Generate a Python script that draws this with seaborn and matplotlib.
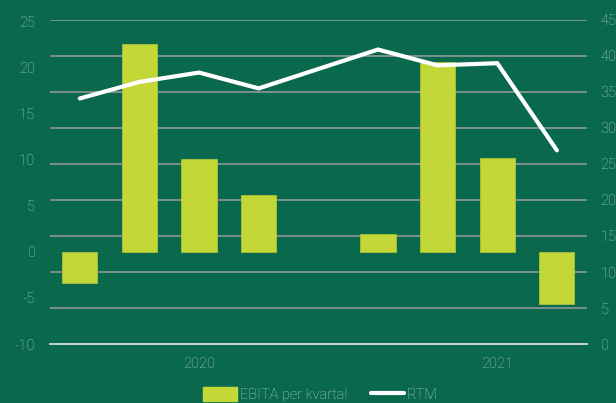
import numpy as np
import pandas as pd
import matplotlib
matplotlib.use("Agg")
import matplotlib.pyplot as plt
import seaborn as sns
from matplotlib.patches import Patch
from matplotlib.lines import Line2D

# data
quarters = ["Q4 2019", "Q1 2020", "Q2 2020", "Q3 2020", "Q4 2020",
            "Q1 2021", "Q2 2021", "Q3 2021", "Q4 2021"]
ebita = [-3.4, 22.6, 10.1, 6.2, np.nan, 2.0, 20.6, 10.2, -5.7]
rtm = [34.1, 36.4, 37.7, 35.5, 38.2, 40.9, 38.7, 39.0, 26.9]
year_ticks = [2, 7]
year_labels = ["2020", "2021"]
left_ticks = [-10, -5, 0, 5, 10, 15, 20, 25]
right_ticks = [0, 5, 10, 15, 20, 25, 30, 35, 40, 45]

bg = "#0a684d"
bar_col = "#c3d737"
txt_col = "#aacbbb"
grid_col = "#9c9c9c"

sns.set_theme(style="white")
plt.rcParams["font.family"] = ["Roboto", "DejaVu Sans"]
plt.rcParams["font.weight"] = "light"
plt.rcParams["axes.unicode_minus"] = False

df = pd.DataFrame({"q": quarters, "ebita": ebita, "rtm": rtm, "i": range(len(quarters))})

fig = plt.figure(figsize=(6.16, 4.03), dpi=100, facecolor=bg)
ax = fig.add_axes([50 / 616, 1 - 344 / 403, 536.7 / 616, 324 / 403])
ax.set_facecolor(bg)

sns.barplot(data=df, x="i", y="ebita", order=list(range(len(quarters))),
            color=bar_col, width=0.59, edgecolor="#a9c43a", linewidth=0.6,
            saturation=1, ax=ax, zorder=3)

lo, hi = -10, 25.2
ax.set_ylim(lo, hi)
ax.set_xlim(-0.5, len(quarters) - 0.5)
ax.set_yticks(left_ticks)

# grid follows the right axis scale, drawn under the bars
grid_pos = [lo + r / 45 * (hi - lo) for r in right_ticks[1:]]
ax.set_yticks(grid_pos, minor=True)
ax.yaxis.grid(True, which="minor", color=grid_col, linewidth=1.1)
ax.yaxis.grid(False, which="major")
ax.set_axisbelow(True)
ax.tick_params(axis="y", which="minor", length=0)

ax.set_xticks(year_ticks)
ax.set_xticklabels(year_labels)
ax.tick_params(axis="x", length=0, pad=9, labelsize=10.5, labelcolor=txt_col)
ax.tick_params(axis="y", which="major", length=0, pad=11, labelsize=10.5, labelcolor=txt_col)
ax.set_xlabel("")
ax.set_ylabel("")
for s in ["top", "left", "right"]:
    ax.spines[s].set_visible(False)
ax.spines["bottom"].set_color("#e4e9e6")
ax.spines["bottom"].set_linewidth(1.2)

ax2 = ax.twinx()
sns.lineplot(data=df, x="i", y="rtm", color="white", linewidth=3, ax=ax2,
             solid_joinstyle="miter")
ax2.set_ylim(0, 45)
ax2.set_yticks(right_ticks)
ax2.tick_params(axis="y", length=0, pad=10, labelsize=10.5, labelcolor=txt_col)
ax2.set_ylabel("")
for s in ["top", "left", "right", "bottom"]:
    ax2.spines[s].set_visible(False)

handles = [Patch(facecolor=bar_col, edgecolor=bar_col),
           Line2D([0], [0], color="white", linewidth=3)]
fig.legend(handles, ["EBITA per kvartal", "RTM"], loc="center left",
           bbox_to_anchor=(196 / 616, 0.022), ncol=2, frameon=False,
           fontsize=10.5, labelcolor=txt_col, handlelength=2.3, handleheight=1.1,
           handletextpad=0.2, columnspacing=1.6, borderpad=0)

fig.savefig("out.png", dpi=100, facecolor=bg)
